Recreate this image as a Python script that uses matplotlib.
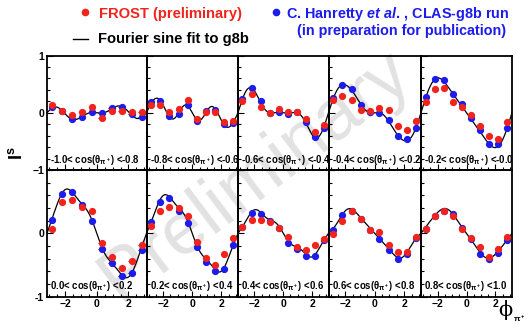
import numpy as np
import matplotlib
matplotlib.use("Agg")
import matplotlib.pyplot as plt
from matplotlib.ticker import MultipleLocator, FixedLocator

plt.rcParams['font.family'] = ['Liberation Sans', 'DejaVu Sans']
plt.rcParams['font.weight'] = 'bold'
plt.rcParams['mathtext.fontset'] = 'custom'
plt.rcParams['mathtext.rm'] = 'Liberation Sans:bold'
plt.rcParams['mathtext.bf'] = 'Liberation Sans:bold'
plt.rcParams['mathtext.it'] = 'Liberation Sans:italic:bold'
plt.rcParams['mathtext.default'] = 'bf'

######## Data
phiBins = [-2.83, -2.20, -1.57, -0.94, -0.31, 0.31, 0.94, 1.57, 2.20, 2.83]
cosLow = ["-1.0", "-0.8", "-0.6", "-0.4", "-0.2", "0.0", "0.2", "0.4", "0.6", "0.8"]
cosHigh = ["-0.8", "-0.6", "-0.4", "-0.2", "-0.0", "0.2", "0.4", "0.6", "0.8", "1.0"]

frost = [
    [0.13, 0.035, -0.04, 0.005, 0.105, -0.09, 0.03, 0.03, 0.005, 0.005],
    [0.14, 0.13, 0.005, 0.064, 0.23, -0.105, 0.005, 0.005, -0.16, -0.14],
    [0.20, 0.33, 0.10, -0.005, 0.064, 0.018, 0.018, -0.11, -0.33, -0.21],
    [0.22, 0.30, 0.22, 0.05, 0.03, 0.08, 0.05, -0.24, -0.30, -0.14],
    [0.19, 0.41, 0.43, 0.19, 0.10, -0.04, -0.23, -0.41, -0.45, -0.16],
    [0.07, 0.49, 0.52, 0.42, 0.35, -0.16, -0.37, -0.54, -0.44, -0.18],
    [0.115, 0.35, 0.42, 0.40, 0.28, -0.13, -0.39, -0.50, -0.33, -0.07],
    [0.10, 0.21, 0.21, 0.18, 0.09, -0.06, -0.215, -0.26, -0.18, -0.095],
    [-0.01, 0.20, 0.35, 0.23, 0.05, 0.02, -0.19, -0.29, -0.29, -0.06],
    [0.07, 0.27, 0.36, 0.28, 0.075, -0.08, -0.21, -0.37, -0.25, -0.05],
]
g8b = [
    [0.10, 0.035, -0.11, -0.075, 0.02, -0.005, 0.075, 0.10, -0.03, -0.075],
    [0.19, 0.20, -0.05, -0.02, 0.14, -0.14, 0.03, 0.05, -0.19, -0.175],
    [0.245, 0.43, 0.21, -0.005, 0.018, -0.018, 0.018, -0.17, -0.415, -0.26],
    [0.25, 0.49, 0.415, 0.135, 0.02, -0.005, -0.13, -0.40, -0.46, -0.26],
    [0.27, 0.59, 0.57, 0.33, 0.16, -0.09, -0.31, -0.55, -0.55, -0.26],
    [0.21, 0.62, 0.66, 0.44, 0.20, -0.25, -0.47, -0.67, -0.62, -0.26],
    [0.18, 0.50, 0.56, 0.35, 0.17, -0.22, -0.45, -0.60, -0.56, -0.18],
    [0.10, 0.325, 0.31, 0.19, 0.08, -0.15, -0.24, -0.35, -0.35, -0.11],
    [0.06, 0.29, 0.35, 0.23, 0.05, -0.095, -0.27, -0.40, -0.32, -0.07],
    [0.065, 0.27, 0.36, 0.30, 0.08, -0.09, -0.33, -0.40, -0.31, -0.105],
]

RED = '#f0241c'
BLUE = '#1c1ced'
W, H = 529, 324

def sineFit(x, y, nTerms=4):
    # least squares Fourier sine series fit to the g8b points
    x = np.asarray(x)
    A = np.column_stack([np.sin((n + 1) * x) for n in range(nTerms)])
    coef, *_ = np.linalg.lstsq(A, np.asarray(y), rcond=None)
    xs = np.linspace(-np.pi, np.pi, 300)
    ys = sum(c * np.sin((n + 1) * xs) for n, c in enumerate(coef))
    return xs, ys

fig = plt.figure(figsize=(W / 100, H / 100), dpi=100)

# pixel edges of the pad grid
colEdges = [47, 146.5, 238, 328.5, 421, 512]
rowEdges = [(55.5, 170), (170, 296.7)]

for i in range(10):
    row, col = divmod(i, 5)
    x0, x1 = colEdges[col], colEdges[col + 1]
    yTop, yBot = rowEdges[row]
    ax = fig.add_axes([x0 / W, 1 - yBot / H, (x1 - x0) / W, (yBot - yTop) / H])
    ax.patch.set_alpha(0)

    xs, ys = sineFit(phiBins, g8b[i])
    ax.plot(xs, ys, color='black', lw=0.9, zorder=2)
    ax.errorbar(phiBins, g8b[i], xerr=0.2, yerr=0.03, fmt='o', color=BLUE, ms=4.2,
                ecolor='black', elinewidth=0.8, capsize=0, zorder=3)
    ax.errorbar(phiBins, frost[i], xerr=0.2, yerr=0.03, fmt='o', color=RED, ms=4.2,
                ecolor='#333333', elinewidth=0.8, capsize=0, zorder=4)

    ax.set_xlim(-np.pi, np.pi)
    ax.set_ylim(-1, 1)
    for s in ax.spines.values():
        s.set_linewidth(1.3)
    ax.xaxis.set_major_locator(FixedLocator([-2, 0, 2]))
    ax.xaxis.set_minor_locator(MultipleLocator(0.5))
    ax.yaxis.set_major_locator(FixedLocator([-1, 0, 1]))
    ax.yaxis.set_minor_locator(MultipleLocator(0.2))
    ax.tick_params(which='both', direction='in', top=False, right=False,
                   labelsize=7.5, pad=2, width=0.8)
    ax.tick_params(which='major', length=4)
    ax.tick_params(which='minor', length=2)
    if col != 0:
        ax.set_yticklabels([])
    elif row == 1:
        ax.set_yticklabels(['-1', '0', ''])
    if row == 0:
        ax.set_xticklabels([])

    ax.text(0.035, 0.085, cosLow[i] + r'< cos($\theta_{\pi^+}$) <' + cosHigh[i],
            transform=ax.transAxes, fontsize=6.9, fontweight='bold',
            ha='left', va='center', zorder=5)

# watermark
fig.text(255 / W, 1 - 176 / H, 'Preliminary', fontsize=53, color='#e2e2e2',
         fontweight='normal', rotation=37, ha='center', va='center', zorder=-1)

# axis titles
fig.text(17 / W, 1 - 153 / H, r'$\mathbf{I^{s}}$', fontsize=13, rotation=90,
         ha='center', va='center')
fig.text(498 / W, 1 - 310 / H, '\u03d5', family='DejaVu Serif', fontweight='normal',
         fontsize=15, ha='left', va='center')
fig.text(513 / W, 1 - 319 / H, r'$\pi^+$', fontsize=6, ha='left', va='center')

# legend drawn by hand, as in the ROOT canvas
fig.add_artist(plt.Line2D([85 / W], [1 - 12 / H], marker='o', color=RED, ms=4.5))
fig.text(99 / W, 1 - 14 / H, 'FROST (preliminary)', color=RED, fontsize=10.6,
         fontweight='bold', va='center')
fig.add_artist(plt.Line2D([73 / W, 88 / W], [1 - 39 / H, 1 - 39 / H], color='black', lw=1))
fig.text(98 / W, 1 - 39 / H, 'Fourier sine fit to g8b', color='black', fontsize=10.6,
         fontweight='bold', va='center')
fig.add_artist(plt.Line2D([276 / W], [1 - 12 / H], marker='o', color=BLUE, ms=4.5))
fig.text(286 / W, 1 - 14 / H, r'C. Hanretty $\mathit{et\ al}$. , CLAS-g8b run',
         color=BLUE, fontsize=10.4, fontweight='bold', va='center')
fig.text(402 / W, 1 - 31 / H, '(in preparation for publication)', color=BLUE,
         fontsize=10.4, fontweight='bold', va='center', ha='center')

fig.savefig('out.png', dpi=100)
